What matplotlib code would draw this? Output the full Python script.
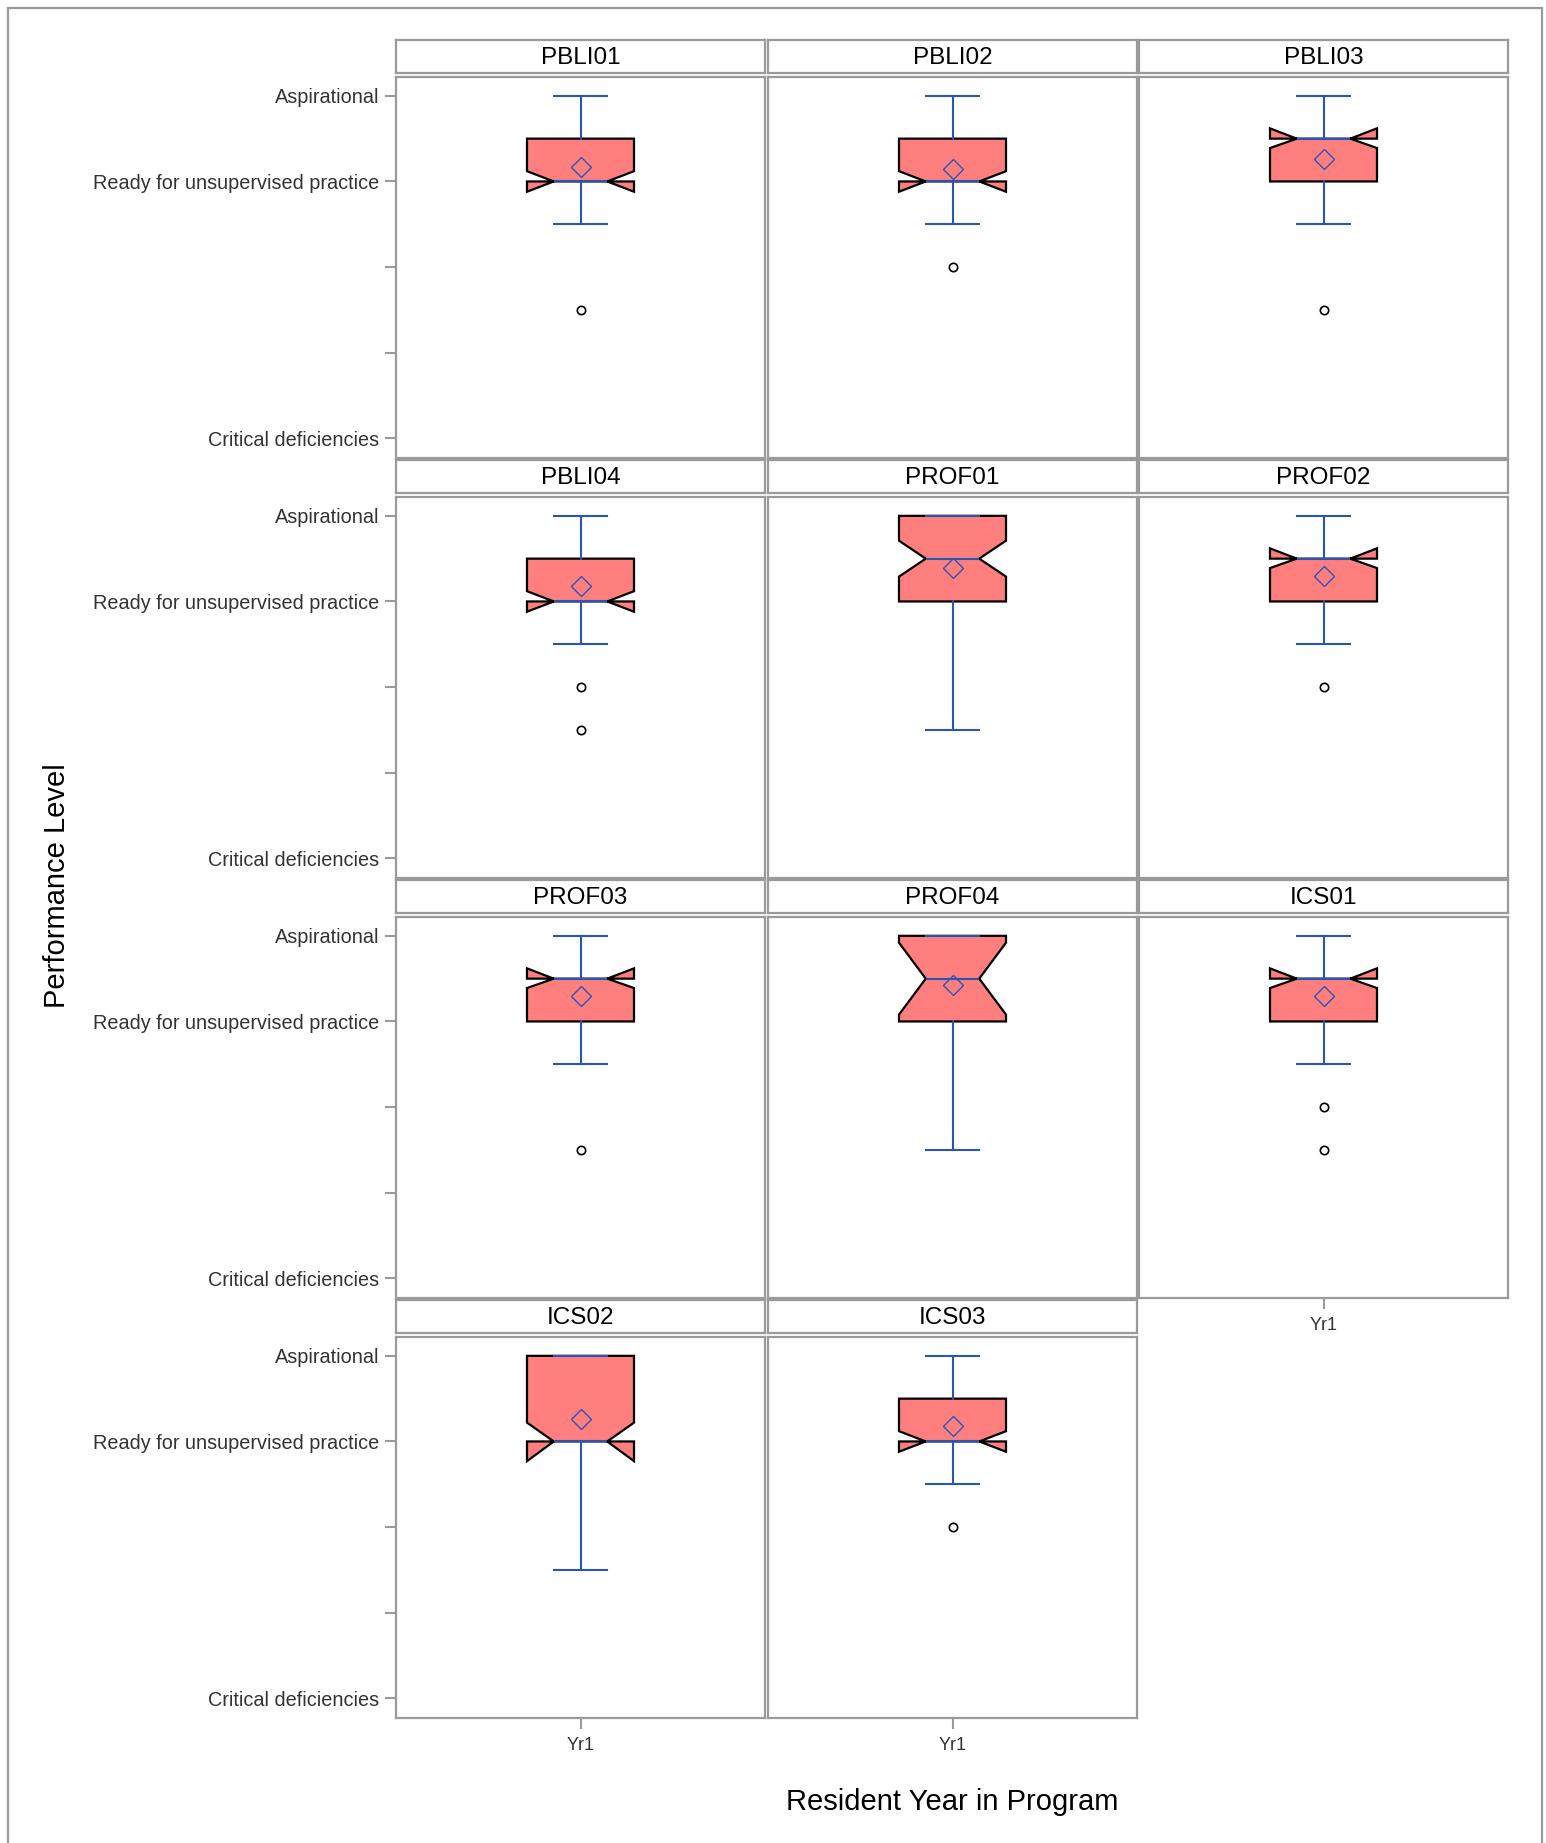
import matplotlib
matplotlib.use("Agg")
import matplotlib.pyplot as plt
from matplotlib.patches import Rectangle

plt.rcParams['font.family'] = ['Liberation Sans', 'DejaVu Sans']

# Box statistics per competency (1 = Critical deficiencies ... 5 = Aspirational)
panels = ['PBLI01', 'PBLI02', 'PBLI03', 'PBLI04', 'PROF01', 'PROF02',
          'PROF03', 'PROF04', 'ICS01', 'ICS02', 'ICS03']
q1 = [4, 4, 4, 4, 4, 4, 4, 4, 4, 4, 4]
med = [4, 4, 4.5, 4, 4.5, 4.5, 4.5, 4.5, 4.5, 4, 4]
q3 = [4.5, 4.5, 4.5, 4.5, 5, 4.5, 4.5, 5, 4.5, 5, 4.5]
whislo = [3.5, 3.5, 3.5, 3.5, 2.5, 3.5, 3.5, 2.5, 3.5, 2.5, 3.5]
whishi = [5, 5, 5, 5, 5, 5, 5, 5, 5, 5, 5]
means = [4.17, 4.15, 4.26, 4.18, 4.39, 4.30, 4.30, 4.42, 4.30, 4.26, 4.18]
cilo = [3.88, 3.88, 4.39, 3.88, 4.29, 4.39, 4.39, 4.08, 4.39, 3.77, 3.88]
cihi = [4.12, 4.12, 4.62, 4.12, 4.71, 4.62, 4.62, 4.92, 4.62, 4.22, 4.12]
fliers = [[2.5], [3.0], [2.5], [3.0, 2.5], [], [3.0], [2.5], [], [3.0, 2.5], [], [3.0]]

year_label = 'Yr1'
level_ticks = [1, 2, 3, 4, 5]
level_labels = ['Critical deficiencies', '', '', 'Ready for unsupervised practice', 'Aspirational']

W, H = 1546, 1843
BLUE = '#2a55b5'
GRAY = '#9a9a9a'


def px_rect(x0, y0, w, h):
    # pixel box (top-left origin) -> figure fraction
    return [x0 / W, 1 - (y0 + h) / H, w / W, h / H]


fig = plt.figure(figsize=(W / 100, H / 100), dpi=100)

# outer border
fig.add_artist(Rectangle((8 / W, -0.05), 1534 / W, 1.05 - 8 / H, transform=fig.transFigure,
                         fill=False, edgecolor=GRAY, linewidth=1.6))

col_x = [396, 768, 1139]
row_y = [77, 497, 917, 1337]
pw, ph = 369, 381

for i, name in enumerate(panels):
    r, c = divmod(i, 3)
    x0, y0 = col_x[c], row_y[r]

    # strip header
    sax = fig.add_axes(px_rect(x0, y0 - 37, pw, 33))
    sax.set_xticks([])
    sax.set_yticks([])
    for sp in sax.spines.values():
        sp.set_color(GRAY)
        sp.set_linewidth(1.6)
    sax.text(0.5, 0.44, name, ha='center', va='center', fontsize=17.5, transform=sax.transAxes)

    ax = fig.add_axes(px_rect(x0, y0, pw, ph))
    stats = [dict(med=med[i], q1=q1[i], q3=q3[i], whislo=whislo[i], whishi=whishi[i],
                  mean=means[i], cilo=cilo[i], cihi=cihi[i], fliers=fliers[i], label=year_label)]
    ax.bxp(stats, positions=[1], widths=0.29, capwidths=0.145, shownotches=True, showmeans=True,
           patch_artist=True, manage_ticks=False,
           boxprops=dict(facecolor='#ff7f7f', edgecolor='black', linewidth=1.6),
           whiskerprops=dict(color=BLUE, linewidth=1.5),
           capprops=dict(color=BLUE, linewidth=1.5),
           medianprops=dict(color=BLUE, linewidth=1.5),
           meanprops=dict(marker='D', markerfacecolor='none', markeredgecolor=BLUE,
                          markersize=10.5, markeredgewidth=1),
           flierprops=dict(marker='o', markerfacecolor='none', markeredgecolor='black',
                           markersize=6, markeredgewidth=1.2))
    ax.set_xlim(0.5, 1.5)
    ax.set_ylim(0.77, 5.22)
    for sp in ax.spines.values():
        sp.set_color(GRAY)
        sp.set_linewidth(1.6)

    if c == 0:
        ax.set_yticks(level_ticks)
        ax.set_yticklabels(level_labels)
        ax.tick_params(axis='y', length=8, width=1.5, color=GRAY, pad=4,
                       labelsize=14.3, labelcolor='#333333')
    else:
        ax.set_yticks([])

    bottom = (r == 3) or (c == 2 and r == 2)
    if bottom:
        ax.set_xticks([1])
        ax.set_xticklabels([year_label])
        ax.tick_params(axis='x', length=8, width=1.5, color=GRAY, pad=6,
                       labelsize=13, labelcolor='#333333')
    else:
        ax.set_xticks([])

fig.text(57 / W, 1 - 886 / H, 'Performance Level', rotation=90, ha='center', va='center', fontsize=21)
fig.text(952 / W, 1 - 1802 / H, 'Resident Year in Program', ha='center', va='center', fontsize=21)

fig.savefig('out.png', dpi=100)
